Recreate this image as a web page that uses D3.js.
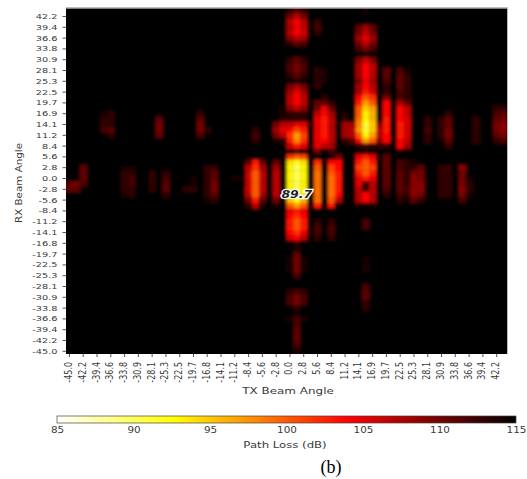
<!DOCTYPE html>
<html><head><meta charset="utf-8">
<script src="https://cdn.jsdelivr.net/npm/d3@7"></script>
<style>html,body{margin:0;padding:0;background:#fff}svg{display:block}
text{font-family:"DejaVu Sans",sans-serif;fill:#3a3a3a}</style></head>
<body><svg id="c" width="527" height="479"></svg>
<script>
const BEAM_COUNT = 64;
const txTickLabels = ["-45.0","-42.2","-39.4","-36.6","-33.8","-30.9","-28.1","-25.3","-22.5","-19.7","-16.8","-14.1","-11.2","-8.4","-5.6","-2.8","0.0","2.8","5.6","8.4","11.2","14.1","16.9","19.7","22.5","25.3","28.1","30.9","33.8","36.6","39.4","42.2"];
const rxTickLabels = ["42.2","39.4","36.6","33.8","30.9","28.1","25.3","22.5","19.7","16.9","14.1","11.2","8.4","5.6","2.8","0.0","-2.8","-5.6","-8.4","-11.2","-14.1","-16.8","-19.7","-22.5","-25.3","-28.1","-30.9","-33.8","-36.6","-39.4","-42.2","-45.0"];
const lossTicks = [85,90,95,100,105,110,115];
const lossStops = [85,92.6,104,115];
const stopColors = ["#ffffff","#ffff00","#ff0000","#000000"];
const backgroundLoss = 115;
const peakLabel = {col:33,row:34,text:"89.7"};

// Each strip: [TX column, first RX row from the top, path loss of successive rows...]
const mainBeamStrips = [
 [32,0,113,110,107,108,107,109,113,115,115,113,112,112,113,115,110,108,107,107,109,113,113,107,104,102,103,106,113,102,94,93,93,93,93,93,94,95,100,105,104,103,103,104,106,115,115,115,114,114,114,115,115,115,113,112,112,115,115,114,115,115,115,115,115],
 [33,0,111,107,104,105,104,107,111,115,115,111,110,110,111,114,108,105,104,104,107,113,113,105,101,97,98,103,112,100,92,90,90,90,90,90,89.7,92,97,103,102,100,100,102,104,113,114,111,110,110,110,112,115,115,112,110,110,113,114,112,112,111,111,111,112,114],
 [34,0,113,110,107,107,106,108,112,115,115,113,112,112,113,115,110,108,107,107,109,113,113,105,103,101,102,105,113,101,94,93,93,93,93,93,94,96,100,105,104,103,103,105,107,115,115,115,114,114,114,115,115,115,113,112,112,115,115,114,115,115,115,115,115]
];
const secondBeamStrips = [
 [42,0,115,115,115,111,110,108,110,112,115,110,108,108,108,110,108,108,104,103,100,100,99,98,97,100,104,113,115,105,103,101,103,105,105,107,107,107,114],
 [43,0,114,115,115,108,107,105,107,110,115,107,104,104,104,105,104,103,100,97,95,93,93,91,91,93,97,112,114,103,100,100,100,103,112,113,104,104,115,115,115,112,112,115,115,115,115,115,114,114,114,115,115,112,111,111,113,113],
 [44,0,115,115,115,111,110,108,110,112,115,110,107,107,107,108,107,106,102,100,97,96,96,95,95,97,100,113,115,105,103,101,103,105,107,107,107,107,114],
 [45,21,109,107,107,109,113],
 [46,11,111,111,112,113,113,110,104,104,104,103,103,103,104,104,113,115,111,111,111,111,111,111,112,113],
 [48,11,112,111,111,111,112,112,108,104,104,104,103,103,103,104,104,114,115,112,112,111,111,111,111,112,113],
 [49,11,114,113,113,113,113,113,111,107,107,106,106,106,106,107,108,115,115,113,113,113,113,113,112,113,114],
 [50,28,114,113,110,109,109,109,109,111],
 [51,29,111,110,110,109,109,110,113]
];
const sideBeamStrips = [
 [26,28,111,107,106,106,106,106,107,110,113],
 [27,22,113,112,113,115,115,115,103,102,100,100,100,100,100,103,107],
 [28,28,111,108,107,107,107,107,108,111,114],
 [30,21,110,108,110,114,115,115,115,111,108,107,107,107,107,107,110,114],
 [31,18,114,114,113,107,105,107,113],
 [36,2,113,112,113,115,115,115,115,115,115,113,113,113,113,115,115,111,110,107,105,105,105,105,105,105,111,115,102,100,99,99,99,99,99,99,103,115,115,113,112,112,113],
 [37,11,114,114,114,115,115,113,111,105,104,103,103,103,103,104,107,115],
 [38,2,115,115,115,115,115,115,115,115,115,115,115,115,115,115,115,113,111,108,107,107,107,107,107,108,112,115,104,101,100,99,99,99,99,100,103,115,115,113,112,112,113],
 [39,27,110,104,104,103,103,103,103,104,107,115],
 [40,18,115,114,113,108,108,108,113],
 [41,21,108,107,107,111]
];
const faintStrips = [
 [0,32,111,111],[1,32,110,111],[2,29,111,111,111,112],
 [5,19,114,113,113,112],[6,19,113,113,113,111,113],
 [8,29,114,113,113,113,113,114],[9,29,114,113,112,112,113,113],
 [12,30,113,113,113,113],[13,20,111,110,110,111],[14,30,113,112,111,111,113],
 [17,33,113],[18,30,115,114,114,113],
 [19,19,113,111,110,110,112],[20,22,113],[20,29,113,113,113,113,113,113,114],
 [21,29,113,111,111,110,110,111,113],[24,30,115,114,115],[25,30,115,114,115],
 [52,20,113,113,112,113,113],[54,19,115,113,113,113,113,114,115],[54,29,113,113,113,113,113,113],
 [55,19,113,111,111,110,110,111,113],[55,29,113,113,113,113,113,113],
 [57,29,109,110,110,110,109,110,112],[58,31,114,113,113,114],
 [59,20,113,113,113,113,113],[62,18,113,112,111,110,110,111,113],[63,18,113,111,110,109,109,110,112]
];
const allStrips = [...mainBeamStrips,...secondBeamStrips,...sideBeamStrips,...faintStrips];

const svg = d3.select("#c");
const frame = {left:66,right:507,top:8.4,bottom:354};
const indexDomain = d3.range(BEAM_COUNT);
const x = d3.scaleBand().domain(indexDomain).range([frame.left,frame.right]);
const y = d3.scaleBand().domain(indexDomain).range([frame.top,frame.bottom]);
const color = d3.scaleLinear().domain(lossStops).range(stopColors).clamp(true);

const cells = allStrips.flatMap(([col,start,...vals]) => vals.map((v,i)=>({col,row:start+i,v})));

const defs = svg.append("defs");
defs.append("filter").attr("id","soft").attr("x","-5%").attr("y","-5%").attr("width","110%").attr("height","110%")
  .append("feGaussianBlur").attr("stdDeviation",1.5);
defs.append("clipPath").attr("id","plot").append("rect")
  .attr("x",frame.left).attr("y",frame.top).attr("width",frame.right-frame.left).attr("height",frame.bottom-frame.top);
const grad = defs.append("linearGradient").attr("id","bar");
lossStops.forEach((s,i)=>grad.append("stop").attr("offset",(s-85)/30).attr("stop-color",stopColors[i]));

const plot = svg.append("g").attr("clip-path","url(#plot)");
const heat = plot.append("g").attr("filter","url(#soft)");
heat.append("rect").attr("x",frame.left-10).attr("y",frame.top-10)
  .attr("width",frame.right-frame.left+20).attr("height",frame.bottom-frame.top+20).attr("fill",color(backgroundLoss));
heat.selectAll("rect.c").data(cells).join("rect").attr("class","c")
  .attr("x",d=>x(d.col)).attr("y",d=>y(d.row))
  .attr("width",x.bandwidth()+0.3).attr("height",y.bandwidth()+0.3).attr("fill",d=>color(d.v));

svg.append("path").attr("d",`M${frame.left},${frame.top-0.9}H${frame.right+0.5}V${frame.bottom}`)
  .attr("fill","none").attr("stroke","#bbb");

// axes
const xTickIdx = txTickLabels.map((_,i)=>i*2);
const yTickIdx = rxTickLabels.map((_,i)=>1+i*2);
const xAxis = d3.axisBottom(x).tickValues(xTickIdx).tickFormat((_,i)=>txTickLabels[i]).tickSize(3).tickPadding(0);
const yAxis = d3.axisLeft(y).tickValues(yTickIdx).tickFormat((_,i)=>rxTickLabels[i]).tickSize(3.5).tickPadding(0);
const gx = svg.append("g").attr("transform",`translate(0,${frame.bottom})`).call(xAxis);
const gy = svg.append("g").attr("transform",`translate(${frame.left},0)`).call(yAxis);
[gx,gy].forEach(g=>{g.select(".domain").remove();g.selectAll("line").attr("stroke","#555").attr("stroke-width",1);});
gx.selectAll("text").attr("fill","#3a3a3a").style("font-size","7.4px").attr("text-anchor","end").attr("dy",0).attr("y",0)
  .attr("transform","translate(2.5,8) rotate(-90) scale(1.08,1.3)");
gy.selectAll("text").attr("fill","#3a3a3a").style("font-size","7.5px").attr("x",0).attr("dy",0).attr("y",0).attr("dominant-baseline","central")
  .attr("transform","translate(-8.5,0) scale(1.3,1)");

function label(txt,px,py,size,sx,sy,rot){
  return svg.append("text").text(txt).attr("text-anchor","middle").style("font-size",size+"px")
    .attr("transform",`translate(${px},${py}) rotate(${rot||0}) scale(${sx},${sy})`);
}
label("TX Beam Angle",288,394,9,1.33,1);
label("RX Beam Angle",22,183,9,1.15,1,-90);

// colour bar
const barX = d3.scaleLinear().domain([85,115]).range([57,516]);
svg.append("rect").attr("x",57).attr("y",416).attr("width",459).attr("height",7)
  .attr("fill","url(#bar)").attr("stroke","#444").attr("stroke-width",0.7);
const gb = svg.append("g").attr("transform","translate(0,423)")
  .call(d3.axisBottom(barX).tickValues(lossTicks).tickSize(0).tickPadding(0));
gb.select(".domain").remove();
gb.selectAll("text").attr("fill","#3a3a3a").style("font-size","8px").attr("y",0).attr("dy",0)
  .attr("transform","translate(0,10) scale(1.3,1)");
label("Path Loss (dB)",285,448,9,1.3,1);

svg.append("text").text("(b)").attr("text-anchor","middle").attr("x",331).attr("y",473)
  .style("font-family","'Liberation Serif',serif").style("font-size","18px").style("fill","#000");

// peak annotation
svg.append("text").text(peakLabel.text).attr("text-anchor","middle")
  .attr("transform",`translate(${x(peakLabel.col)+x.bandwidth()/2},${y(peakLabel.row)+y.bandwidth()/2+3.5}) scale(1.25,1)`)
  .style("font-size","10px").style("font-style","italic").style("font-weight","bold")
  .style("fill","#222").style("stroke","#fff").style("stroke-width","2.4px").style("paint-order","stroke");
</script></body></html>
